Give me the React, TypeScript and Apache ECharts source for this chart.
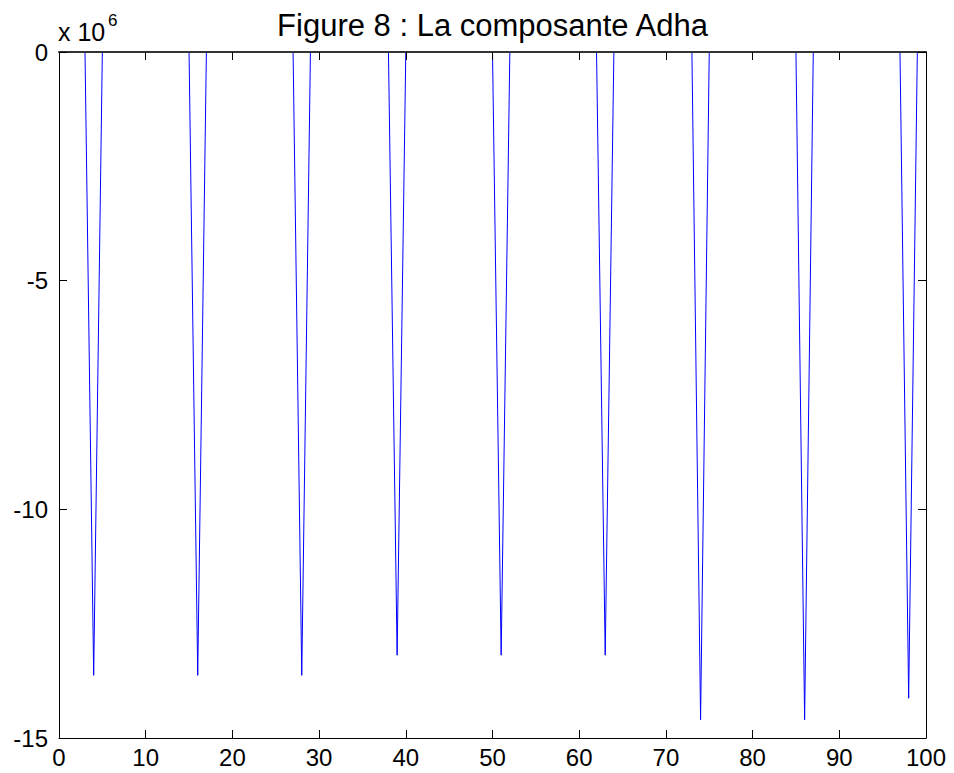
import React, { useEffect, useRef } from "react";
import * as echarts from "echarts";

// Sample index (x) of each vertex of the plotted line
const xValues = [1, 3, 4, 5, 15, 16, 17, 27, 28, 29, 38, 39, 40, 50, 51, 52, 62, 63, 64, 73, 74, 75, 85, 86, 87, 97, 98, 99, 100];
// Value of the "Adha" component at each vertex
const yValues = [
  0, 0, -13.63e6, 0,
  0, -13.63e6, 0,
  0, -13.63e6, 0,
  0, -13.19e6, 0,
  0, -13.19e6, 0,
  0, -13.19e6, 0,
  0, -14.6e6, 0,
  0, -14.6e6, 0,
  0, -14.13e6, 0,
  0,
];
const xTicks = [0, 10, 20, 30, 40, 50, 60, 70, 80, 90, 100];
const yTicks = [-15, -10, -5, 0];
const titleText = "Figure 8 : La composante Adha";

const FONT = "'Liberation Sans', Arial, Helvetica, sans-serif";

export default function App() {
  const ref = useRef<HTMLDivElement>(null);
  useEffect(() => {
    if (!ref.current) return;
    const chart = echarts.init(ref.current, undefined, { renderer: "svg" });
    const data = xValues.map((x, i) => [x, yValues[i]]);
    const gridLeft = 59;
    const gridRight = 28;
    const gridTop = 52;
    const gridBottom = 35;
    const plotCenter = gridLeft + (954 - gridLeft - gridRight) / 2;
    const axisCommon = {
      z: 5,
      axisLine: { show: true, onZero: false, lineStyle: { color: "#000", width: 1 } },
      axisTick: { show: true, inside: true, length: 8, lineStyle: { color: "#000", width: 1 } },
      splitLine: { show: false },
    };
    chart.setOption({
      animation: false,
      backgroundColor: "#fff",
      grid: { left: gridLeft, right: gridRight, top: gridTop, bottom: gridBottom, containLabel: false },
      xAxis: [
        {
          type: "value",
          position: "bottom",
          min: xTicks[0],
          max: xTicks[xTicks.length - 1],
          interval: 10,
          ...axisCommon,
          axisLabel: { fontSize: 24, color: "#000", fontFamily: FONT, margin: 7 },
        },
        {
          type: "value",
          position: "top",
          min: xTicks[0],
          max: xTicks[xTicks.length - 1],
          interval: 10,
          ...axisCommon,
          axisLine: { show: true, onZero: false, lineStyle: { color: "#333", width: 2 } },
          axisLabel: { show: false },
        },
      ],
      yAxis: [
        {
          type: "value",
          position: "left",
          min: yTicks[0] * 1e6,
          max: yTicks[yTicks.length - 1] * 1e6,
          interval: 5e6,
          ...axisCommon,
          axisLabel: {
            fontSize: 24,
            color: "#000",
            fontFamily: FONT,
            margin: 11,
            formatter: (v: number) => String(Math.round(v / 1e6)),
          },
        },
        {
          type: "value",
          position: "right",
          min: yTicks[0] * 1e6,
          max: yTicks[yTicks.length - 1] * 1e6,
          interval: 5e6,
          ...axisCommon,
          axisLabel: { show: false },
        },
      ],
      series: [
        {
          type: "line",
          data,
          xAxisIndex: 0,
          yAxisIndex: 0,
          showSymbol: false,
          symbol: "none",
          lineStyle: { color: "#0000ff", width: 1 },
          clip: false,
          z: 1,
        },
      ],
      graphic: [
        {
          type: "text",
          x: plotCenter,
          y: 25,
          style: {
            text: titleText,
            fontSize: 31,
            fontFamily: FONT,
            fill: "#000",
            textAlign: "center",
            textVerticalAlign: "middle",
            align: "center",
            verticalAlign: "middle",
          },
        },
        {
          type: "text",
          x: 58,
          y: 32,
          style: {
            text: "x 10",
            fontSize: 25,
            fontFamily: FONT,
            fill: "#000",
            textAlign: "left",
            textVerticalAlign: "middle",
            align: "left",
            verticalAlign: "middle",
          },
        },
        {
          type: "text",
          x: 108,
          y: 20,
          style: {
            text: "6",
            fontSize: 17,
            fontFamily: FONT,
            fill: "#000",
            textAlign: "left",
            textVerticalAlign: "middle",
            align: "left",
            verticalAlign: "middle",
          },
        },
      ],
    });
    return () => chart.dispose();
  }, []);
  return (
    <div
      ref={ref}
      style={{ position: "fixed", left: 0, top: 0, width: 954, height: 773, background: "#fff" }}
    />
  );
}
